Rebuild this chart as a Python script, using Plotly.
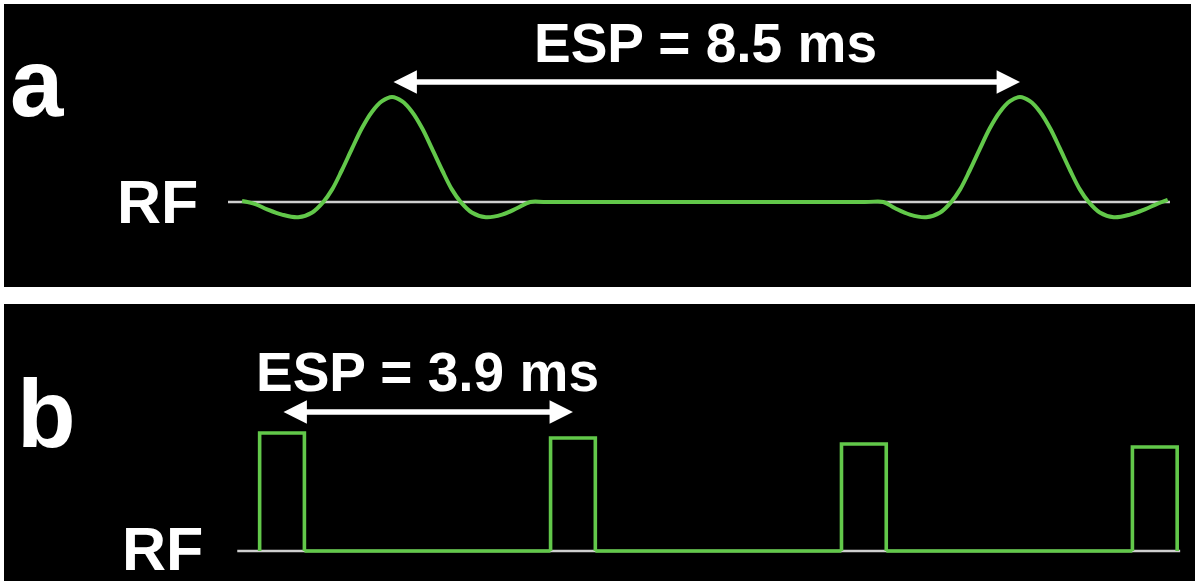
import plotly.graph_objects as go
from plotly.subplots import make_subplots

# ---- panel a: shaped (sinc-like) refocusing pulses, time in ms ----
rf_a_time = [-2.03, -1.85, -1.69, -1.49, -1.27, -1.08, -0.93, -0.81, -0.68, -0.54,
             -0.41, -0.27, -0.135, 0.0, 0.135, 0.27, 0.41, 0.54, 0.68, 0.81,
             0.93, 1.08, 1.27, 1.49, 1.69, 1.87, 2.1,
             6.4, 6.65, 6.81, 7.01, 7.23, 7.42, 7.57, 7.69, 7.82, 7.96, 8.09,
             8.23, 8.365, 8.5, 8.635, 8.77, 8.91, 9.04, 9.18, 9.31, 9.43,
             9.58, 9.77, 9.99, 10.19, 10.35, 10.50]
rf_a_amp = [0.01, -0.02, -0.07, -0.12, -0.145, -0.10, 0.0, 0.12, 0.30, 0.51,
            0.70, 0.86, 0.96, 1.0, 0.96, 0.86, 0.70, 0.51, 0.30, 0.12,
            0.0, -0.10, -0.145, -0.12, -0.06, 0.0, 0.0,
            0.0, 0.0, -0.06, -0.12, -0.145, -0.10, 0.0, 0.12, 0.30, 0.51, 0.70,
            0.86, 0.96, 1.0, 0.96, 0.86, 0.70, 0.51, 0.30, 0.12, 0.0,
            -0.10, -0.145, -0.12, -0.07, -0.02, 0.02]
baseline_a = [-2.22, 10.53]
esp_a = 8.5
peaks_a = [0.0, 8.5]

# ---- panel b: hard (rectangular) pulses ----
pulse_b_start = [-0.3, 3.6, 7.5, 11.4]
pulse_b_width = [0.6, 0.6, 0.6, 0.6]
pulse_b_amp = [1.0, 0.958, 0.907, 0.881]
baseline_b = [-0.60, 12.04]
esp_b = 3.9
centers_b = [0.0, 3.9]

GREEN = "#62c84a"
GREY = "#cfcfcf"
FONT = "Liberation Sans, Arial, sans-serif"

W, H = 1195, 581


def px(x):
    return x / W


def py(y):
    return 1 - y / H


fig = make_subplots(rows=2, cols=1)
fig.update_layout(
    xaxis=dict(domain=[px(4), px(1191)], range=[-5.252, 10.815]),
    yaxis=dict(domain=[py(287), py(4)], range=[-0.8095, 1.8857]),
    xaxis2=dict(domain=[px(4), 1.0], range=[-3.727, 12.239]),
    yaxis2=dict(domain=[0.0, py(304)], range=[-0.254, 2.093]),
)

# panel a traces
fig.add_trace(go.Scatter(x=baseline_a, y=[0, 0], mode="lines",
                         line=dict(color=GREY, width=2.5), hoverinfo="skip"),
              row=1, col=1)
fig.add_trace(go.Scatter(x=rf_a_time, y=rf_a_amp, mode="lines",
                         line=dict(color=GREEN, width=4, shape="spline", smoothing=1.0),
                         hoverinfo="skip"),
              row=1, col=1)

# panel b: build the rectangular pulse train outline
xb, yb = [], []
for s, w, a in zip(pulse_b_start, pulse_b_width, pulse_b_amp):
    xb += [s, s, s + w, s + w, None]
    yb += [0, a, a, 0, None]
# baseline segments between pulses
for i in range(len(pulse_b_start) - 1):
    xb += [pulse_b_start[i] + pulse_b_width[i], pulse_b_start[i + 1], None]
    yb += [0, 0, None]

fig.add_trace(go.Scatter(x=baseline_b, y=[0, 0], mode="lines",
                         line=dict(color=GREY, width=2.5), hoverinfo="skip"),
              row=2, col=1)
fig.add_trace(go.Scatter(x=xb, y=yb, mode="lines", connectgaps=False,
                         line=dict(color=GREEN, width=3.6), hoverinfo="skip"),
              row=2, col=1)

for ax in ["xaxis", "yaxis", "xaxis2", "yaxis2"]:
    fig.layout[ax].update(visible=False, showgrid=False, zeroline=False, fixedrange=True)

annotations = [
    # panel letters
    dict(text="<b>a</b>", xref="paper", yref="paper", x=px(37), y=py(83),
         xanchor="center", yanchor="middle", showarrow=False,
         font=dict(family=FONT, size=96, color="white")),
    dict(text="<b>b</b>", xref="paper", yref="paper", x=px(46), y=py(413),
         xanchor="center", yanchor="middle", showarrow=False,
         font=dict(family=FONT, size=96, color="white")),
    # RF labels
    dict(text="<b>RF</b>", xref="x", yref="y", x=-2.60, y=0,
         xanchor="right", yanchor="middle", showarrow=False,
         font=dict(family=FONT, size=61, color="white")),
    dict(text="<b>RF</b>", xref="x2", yref="y2", x=-1.03, y=0.02,
         xanchor="right", yanchor="middle", showarrow=False,
         font=dict(family=FONT, size=61, color="white")),
    # echo spacing labels
    dict(text=f"<b>ESP = {esp_a} ms</b>", xref="x", yref="y",
         x=(peaks_a[0] + peaks_a[1]) / 2, y=1.514,
         xanchor="center", yanchor="middle", showarrow=False,
         font=dict(family=FONT, size=55, color="white")),
    dict(text=f"<b>ESP = {esp_b} ms</b>", xref="x2", yref="y2",
         x=(centers_b[0] + centers_b[1]) / 2, y=1.517,
         xanchor="center", yanchor="middle", showarrow=False,
         font=dict(family=FONT, size=55, color="white")),
    # double-headed arrows spanning one echo spacing
    dict(text="", xref="x", yref="y", axref="x", ayref="y",
         x=peaks_a[1], y=1.143, ax=peaks_a[0], ay=1.143,
         showarrow=True, arrowside="end+start", arrowhead=2, startarrowhead=2,
         arrowwidth=5.5, arrowsize=0.85, startarrowsize=0.85, arrowcolor="white",
         standoff=0, startstandoff=0),
    dict(text="", xref="x2", yref="y2", axref="x2", ayref="y2",
         x=centers_b[1], y=1.178, ax=centers_b[0], ay=1.178,
         showarrow=True, arrowside="end+start", arrowhead=2, startarrowhead=2,
         arrowwidth=5.5, arrowsize=0.85, startarrowsize=0.85, arrowcolor="white",
         standoff=0, startstandoff=0),
]

fig.update_layout(
    width=W, height=H,
    margin=dict(l=0, r=0, t=0, b=0),
    paper_bgcolor="white",
    plot_bgcolor="black",
    showlegend=False,
    annotations=annotations,
)

fig.write_html("out.html", config={"displayModeBar": False})
